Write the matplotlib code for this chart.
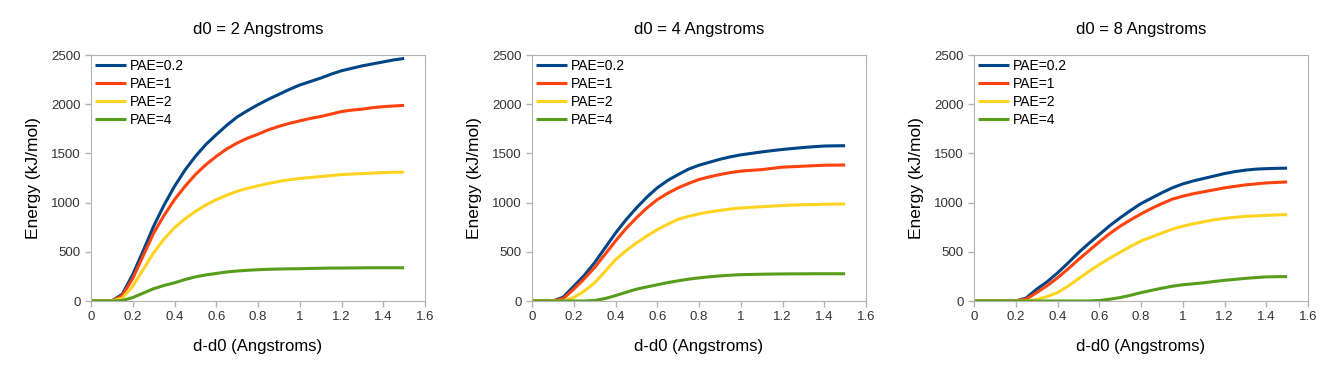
import numpy as np
import matplotlib.pyplot as plt

plt.rcParams['font.family'] = ['Liberation Sans', 'DejaVu Sans']

x = np.round(np.arange(0, 1.5001, 0.05), 2)

titles = ['d0 = 2 Angstroms', 'd0 = 4 Angstroms', 'd0 = 8 Angstroms']
labels = ['PAE=0.2', 'PAE=1', 'PAE=2', 'PAE=4']
colors = ['#004586', '#ff420e', '#ffd320', '#579d1c']

# d0 = 2
d2_pae02 = [0, 0, 0, 70, 270, 510, 760, 975, 1165, 1330, 1470, 1590, 1690, 1785, 1870, 1935,
            1995, 2050, 2100, 2150, 2195, 2230, 2265, 2305, 2340, 2365, 2390, 2410, 2430, 2450, 2465]
d2_pae1 = [0, 0, 0, 55, 230, 460, 690, 870, 1030, 1165, 1285, 1385, 1470, 1545, 1605, 1655,
           1695, 1740, 1775, 1805, 1830, 1855, 1875, 1900, 1925, 1940, 1950, 1965, 1975, 1982, 1988]
d2_pae2 = [0, 0, 0, 30, 150, 320, 490, 630, 745, 835, 910, 975, 1030, 1075, 1115, 1145,
           1170, 1195, 1215, 1232, 1245, 1255, 1265, 1275, 1285, 1290, 1295, 1300, 1305, 1308, 1310]
d2_pae4 = [0, 0, 0, 5, 35, 80, 125, 158, 185, 218, 245, 265, 280, 295, 305, 312,
           318, 322, 325, 327, 328, 331, 333, 335, 335, 336, 337, 338, 338, 338, 338]

# d0 = 4
d4_pae02 = [0, 0, 0, 40, 150, 260, 390, 540, 690, 825, 945, 1055, 1150, 1225, 1285, 1340,
            1380, 1410, 1440, 1465, 1485, 1500, 1515, 1528, 1540, 1550, 1560, 1568, 1575, 1577, 1578]
d4_pae1 = [0, 0, 0, 25, 120, 225, 340, 475, 610, 735, 845, 945, 1030, 1095, 1150, 1195,
           1235, 1262, 1285, 1305, 1320, 1328, 1335, 1348, 1360, 1365, 1370, 1375, 1380, 1381, 1382]
d4_pae2 = [0, 0, 0, 0, 35, 100, 185, 300, 420, 510, 590, 660, 725, 780, 830, 860,
           885, 905, 920, 935, 945, 952, 958, 965, 970, 975, 978, 980, 983, 985, 985]
d4_pae4 = [0, 0, 0, 0, 0, 0, 5, 25, 55, 88, 120, 143, 165, 187, 205, 222,
           235, 246, 255, 262, 268, 270, 272, 274, 275, 276, 276, 277, 277, 277, 277]

# d0 = 8
d8_pae02 = [0, 0, 0, 0, 0, 30, 120, 195, 285, 385, 490, 585, 675, 765, 845, 920,
            990, 1045, 1100, 1150, 1190, 1220, 1245, 1270, 1295, 1315, 1330, 1340, 1345, 1348, 1350]
d8_pae1 = [0, 0, 0, 0, 0, 20, 85, 155, 235, 325, 420, 510, 600, 685, 760, 825,
           885, 940, 990, 1035, 1065, 1090, 1110, 1130, 1150, 1165, 1180, 1190, 1200, 1205, 1210]
d8_pae2 = [0, 0, 0, 0, 0, 0, 15, 45, 85, 150, 225, 300, 370, 435, 495, 555,
           610, 650, 690, 730, 760, 785, 805, 825, 840, 850, 860, 865, 870, 875, 878]
d8_pae4 = [0, 0, 0, 0, 0, 0, 0, 0, 0, 0, 0, 0, 5, 18, 35, 58,
           85, 108, 130, 150, 165, 175, 185, 198, 210, 220, 230, 238, 245, 247, 248]

panels = [
    [d2_pae02, d2_pae1, d2_pae2, d2_pae4],
    [d4_pae02, d4_pae1, d4_pae2, d4_pae4],
    [d8_pae02, d8_pae1, d8_pae2, d8_pae4],
]

fig = plt.figure(figsize=(13.26, 3.74), dpi=100)
lefts = [91, 532, 974]
W, H = 1326, 374

for i, series in enumerate(panels):
    ax = fig.add_axes([lefts[i] / W, (H - 301) / H, 334 / W, 246 / H])
    for ys, lab, c in zip(series, labels, colors):
        ax.plot(x, ys, color=c, lw=2.2, label=lab, solid_capstyle='butt')
    ax.set_xlim(0, 1.6)
    ax.set_ylim(0, 2500)
    ax.set_xticks(np.arange(0, 1.61, 0.2))
    ax.set_xticklabels(['0', '0.2', '0.4', '0.6', '0.8', '1', '1.2', '1.4', '1.6'])
    ax.set_yticks(range(0, 2501, 500))
    for s in ax.spines.values():
        s.set_color('#b3b3b3')
    ax.tick_params(colors='#b3b3b3', labelcolor='#333333', labelsize=9.5, length=4, width=1)
    ax.set_title(titles[i], fontsize=12, pad=15)
    ax.set_xlabel('d-d0 (Angstroms)', fontsize=12, labelpad=11)
    ax.set_ylabel('Energy (kJ/mol)', fontsize=12.5, labelpad=7)
    ax.legend(loc='upper left', frameon=False, fontsize=10, handlelength=2.2,
              handletextpad=0.3, labelspacing=0.28, borderaxespad=0.1,
              borderpad=0.2)

fig.savefig('out.png', dpi=100)
